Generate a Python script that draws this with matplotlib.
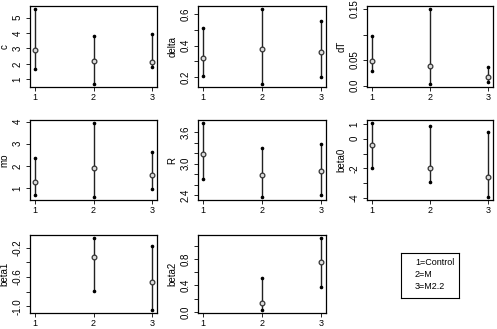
import numpy as np
import matplotlib
matplotlib.use("Agg")
import matplotlib.pyplot as plt

plt.rcParams["font.family"] = ["Liberation Sans", "DejaVu Sans"]

groups = [1, 2, 3]
legend_lines = ["1=Control", "2=M", "3=M2.2"]

# estimate, lower, upper for each group (nan = not estimated)
c_est = [2.90, 2.20, 2.15]
c_low = [1.65, 0.70, 1.82]
c_high = [5.55, 3.78, 3.92]

delta_est = [0.318, 0.379, 0.362]
delta_low = [0.207, 0.156, 0.200]
delta_high = [0.510, 0.632, 0.553]

dT_est = [0.049, 0.039, 0.017]
dT_low = [0.028, 0.003, 0.007]
dT_high = [0.098, 0.150, 0.037]

mo_est = [1.26, 1.91, 1.58]
mo_low = [0.69, 0.59, 0.97]
mo_high = [2.34, 3.94, 2.63]

R_est = [3.19, 2.78, 2.85]
R_low = [2.71, 2.36, 2.40]
R_high = [3.78, 3.30, 3.38]

beta0_est = [-0.40, -2.00, -2.60]
beta0_low = [-2.00, -2.90, -3.95]
beta0_high = [1.07, 0.85, 0.45]

beta1_est = [np.nan, -0.33, -0.665]
beta1_low = [np.nan, -0.79, -1.05]
beta1_high = [np.nan, -0.065, -0.175]

beta2_est = [np.nan, 0.13, 0.75]
beta2_low = [np.nan, 0.026, 0.37]
beta2_high = [np.nan, 0.51, 1.12]

panels = [
    ("c", c_est, c_low, c_high, [1, 2, 3, 4, 5], ["1", "2", "3", "4", "5"]),
    ("delta", delta_est, delta_low, delta_high,
     [0.2, 0.3, 0.4, 0.5, 0.6], ["0.2", "", "0.4", "", "0.6"]),
    ("dT", dT_est, dT_low, dT_high,
     [0.0, 0.05, 0.10, 0.15], ["0.0", "0.05", "", "0.15"]),
    ("mo", mo_est, mo_low, mo_high, [1, 2, 3, 4], ["1", "2", "3", "4"]),
    ("R", R_est, R_low, R_high,
     [2.4, 2.6, 2.8, 3.0, 3.2, 3.4, 3.6],
     ["2.4", "", "", "3.0", "", "", "3.6"]),
    ("beta0", beta0_est, beta0_low, beta0_high,
     [-4, -3, -2, -1, 0, 1], ["-4", "", "-2", "", "0", "1"]),
    ("beta1", beta1_est, beta1_low, beta1_high,
     [-1.0, -0.8, -0.6, -0.4, -0.2], ["-1.0", "", "-0.6", "", "-0.2"]),
    ("beta2", beta2_est, beta2_low, beta2_high,
     [0.0, 0.2, 0.4, 0.6, 0.8, 1.0], ["0.0", "", "0.4", "", "0.8", ""]),
]

W, H = 497, 329
fig = plt.figure(figsize=(W / 100, H / 100), dpi=100)

cols = [(30, 157), (198, 326), (367, 493)]
rows = [(6, 87), (120, 200), (235, 313)]


def rect(r, c):
    x0, x1 = cols[c]
    y0, y1 = rows[r]
    return [x0 / W, 1 - y1 / H, (x1 - x0) / W, (y1 - y0) / H]


for i, (name, est, low, high, yt, ytl) in enumerate(panels):
    ax = fig.add_axes(rect(i // 3, i % 3))
    est = np.array(est, dtype=float)
    low = np.array(low, dtype=float)
    high = np.array(high, dtype=float)
    x = np.array(groups, dtype=float)
    ok = ~np.isnan(est)
    ax.vlines(x[ok], low[ok], high[ok], color="#222222", lw=1.0)
    ax.plot(x[ok], low[ok], ls="none", marker="o", ms=1.6, color="black")
    ax.plot(x[ok], high[ok], ls="none", marker="o", ms=1.6, color="black")
    ax.plot(x[ok], est[ok], ls="none", marker="o", ms=3.4, mfc="#dddddd",
            mec="#333333", mew=0.9)
    lo = np.nanmin(low)
    hi = np.nanmax(high)
    pad = (hi - lo) * 0.04
    ax.set_ylim(lo - pad, hi + pad)
    ax.set_xlim(0.92, 3.08)
    ax.set_xticks(groups)
    ax.set_xticklabels([str(g) for g in groups])
    ax.set_yticks(yt)
    ax.set_yticklabels(ytl, rotation=90, va="center")
    ax.tick_params(labelsize=7, length=3, width=0.6)
    ax.tick_params(axis="x", pad=1.5, labelsize=6.5)
    ax.tick_params(axis="y", pad=2.5)
    ax.set_ylabel(name, fontsize=7, labelpad=2)
    for s in ax.spines.values():
        s.set_linewidth(0.9)

# legend box panel
lx0, lx1 = 401, 459
ly0, ly1 = 253, 298
lax = fig.add_axes([lx0 / W, 1 - ly1 / H, (lx1 - lx0) / W, (ly1 - ly0) / H])
lax.set_xticks([])
lax.set_yticks([])
for s in lax.spines.values():
    s.set_linewidth(0.8)
for k, t in enumerate(legend_lines):
    lax.text(0.24, 0.78 - k * 0.26, t, transform=lax.transAxes,
             fontsize=6.5, va="center", ha="left")

fig.savefig("out.png", dpi=100)
